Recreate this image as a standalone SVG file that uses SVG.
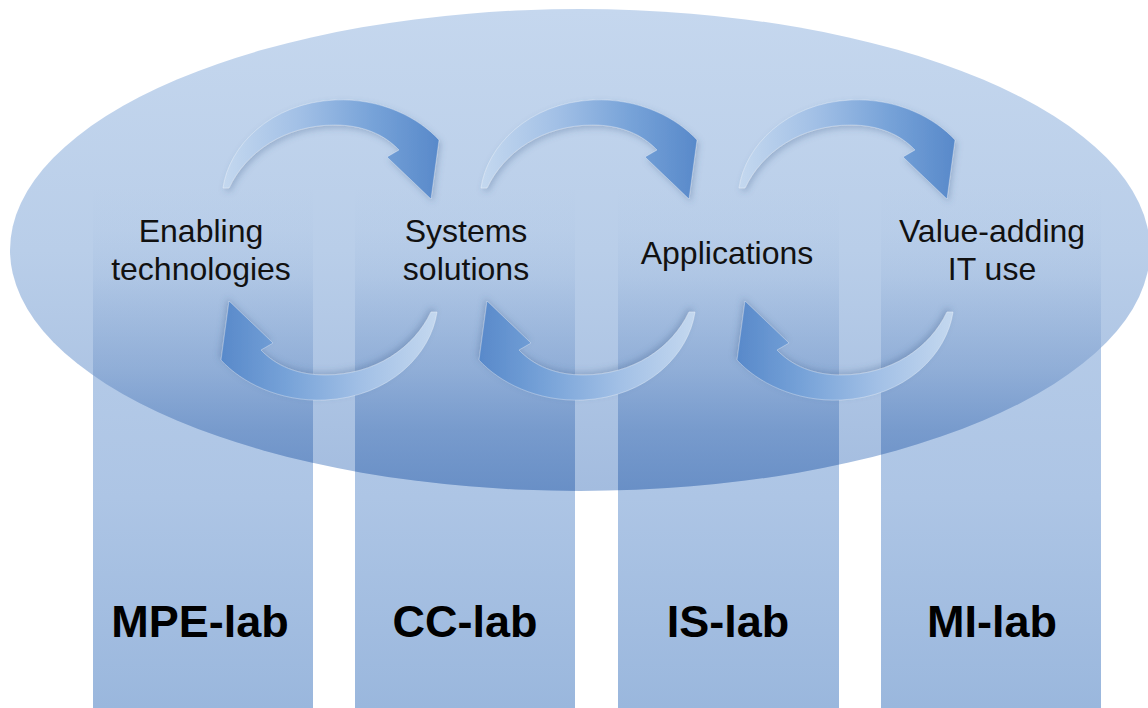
<svg xmlns="http://www.w3.org/2000/svg" xmlns:xlink="http://www.w3.org/1999/xlink" width="1148" height="708" viewBox="0 0 1148 708">
  <defs>
    <linearGradient id="gEllipse" gradientUnits="userSpaceOnUse" x1="0" y1="9" x2="0" y2="491">
      <stop offset="0" stop-color="#c5d7ee"/>
      <stop offset="0.5" stop-color="#b9cee9"/>
      <stop offset="1" stop-color="#a3bcdf"/>
    </linearGradient>
    <linearGradient id="gColumn" gradientUnits="userSpaceOnUse" x1="0" y1="183" x2="0" y2="708">
      <stop offset="0" stop-color="#bcd0ea"/>
      <stop offset="0.6" stop-color="#adc5e5"/>
      <stop offset="1" stop-color="#9ab7dd"/>
    </linearGradient>
    <linearGradient id="gOverlap" gradientUnits="userSpaceOnUse" x1="0" y1="183" x2="0" y2="491">
      <stop offset="0" stop-color="#5a84c0" stop-opacity="0"/>
      <stop offset="0.15" stop-color="#5a84c0" stop-opacity="0.02"/>
      <stop offset="0.3" stop-color="#5a84c0" stop-opacity="0.08"/>
      <stop offset="0.6" stop-color="#5a84c0" stop-opacity="0.35"/>
      <stop offset="0.8" stop-color="#5a84c0" stop-opacity="0.62"/>
      <stop offset="1" stop-color="#5a84c0" stop-opacity="0.8"/>
    </linearGradient>
    <linearGradient id="gArrow" x1="0" y1="0" x2="1" y2="0">
      <stop offset="0" stop-color="#c4d8ef"/>
      <stop offset="0.35" stop-color="#a2c0e6"/>
      <stop offset="0.7" stop-color="#76a2d8"/>
      <stop offset="1" stop-color="#5889ca"/>
    </linearGradient>
    <clipPath id="clipEllipse">
      <ellipse cx="580" cy="250" rx="570" ry="241"/>
    </clipPath>
    <filter id="shadow" x="-20%" y="-20%" width="140%" height="140%">
      <feDropShadow dx="2" dy="3" stdDeviation="3" flood-color="#3d5f8a" flood-opacity="0.3"/>
    </filter>
    <path id="arc" d="M 223,188 C 229,146 270,103 335,100 C 381,98 419,118 439,140 L 431,199 L 387,157 L 399,150 C 384,134 362,125 335,125 C 285,125 246,152 229,188 Z"/>
    <style>
      .col { fill: url(#gColumn); }
      .ovl { fill: url(#gOverlap); }
      .arrow { fill: url(#gArrow); stroke: #ffffff; stroke-opacity: 0.3; stroke-width: 1; filter: url(#shadow); }
      .lbl { font-family: "Liberation Sans", Arial, sans-serif; font-size: 32px; fill: #111111; text-anchor: middle; }
      .lab { font-family: "Liberation Sans", Arial, sans-serif; font-size: 45px; font-weight: bold; fill: #000000; text-anchor: middle; }
    </style>
  </defs>

  <rect width="1148" height="708" fill="#ffffff"/>

  <g id="columns">
    <rect class="col" x="93" y="183" width="220" height="525"/>
    <rect class="col" x="355" y="183" width="220" height="525"/>
    <rect class="col" x="618" y="183" width="221" height="525"/>
    <rect class="col" x="881" y="183" width="220" height="525"/>
  </g>

  <g id="ellipse">
    <ellipse cx="580" cy="250" rx="570" ry="241" fill="url(#gEllipse)"/>
    <g clip-path="url(#clipEllipse)">
      <rect class="ovl" x="93" y="183" width="220" height="320"/>
      <rect class="ovl" x="355" y="183" width="220" height="320"/>
      <rect class="ovl" x="618" y="183" width="221" height="320"/>
      <rect class="ovl" x="881" y="183" width="220" height="320"/>
    </g>
  </g>

  <g id="connectors">
    <use href="#arc" xlink:href="#arc" class="arrow"/>
    <use href="#arc" xlink:href="#arc" class="arrow" transform="rotate(180 330 250)"/>
    <use href="#arc" xlink:href="#arc" class="arrow" transform="translate(258 0)"/>
    <use href="#arc" xlink:href="#arc" class="arrow" transform="translate(258 0) rotate(180 330 250)"/>
    <use href="#arc" xlink:href="#arc" class="arrow" transform="translate(516 0)"/>
    <use href="#arc" xlink:href="#arc" class="arrow" transform="translate(516 0) rotate(180 330 250)"/>
  </g>

  <g id="node-enabling">
    <text class="lbl" x="201" y="242">Enabling</text>
    <text class="lbl" x="201" y="280">technologies</text>
  </g>
  <g id="node-systems">
    <text class="lbl" x="466" y="242">Systems</text>
    <text class="lbl" x="466" y="280">solutions</text>
  </g>
  <g id="node-applications">
    <text class="lbl" x="727" y="264">Applications</text>
  </g>
  <g id="node-value">
    <text class="lbl" x="992" y="242">Value-adding</text>
    <text class="lbl" x="992" y="280">IT use</text>
  </g>

  <g id="lab-mpe"><text class="lab" x="200" y="637">MPE-lab</text></g>
  <g id="lab-cc"><text class="lab" x="465" y="637">CC-lab</text></g>
  <g id="lab-is"><text class="lab" x="728" y="637">IS-lab</text></g>
  <g id="lab-mi"><text class="lab" x="992" y="637">MI-lab</text></g>
</svg>
